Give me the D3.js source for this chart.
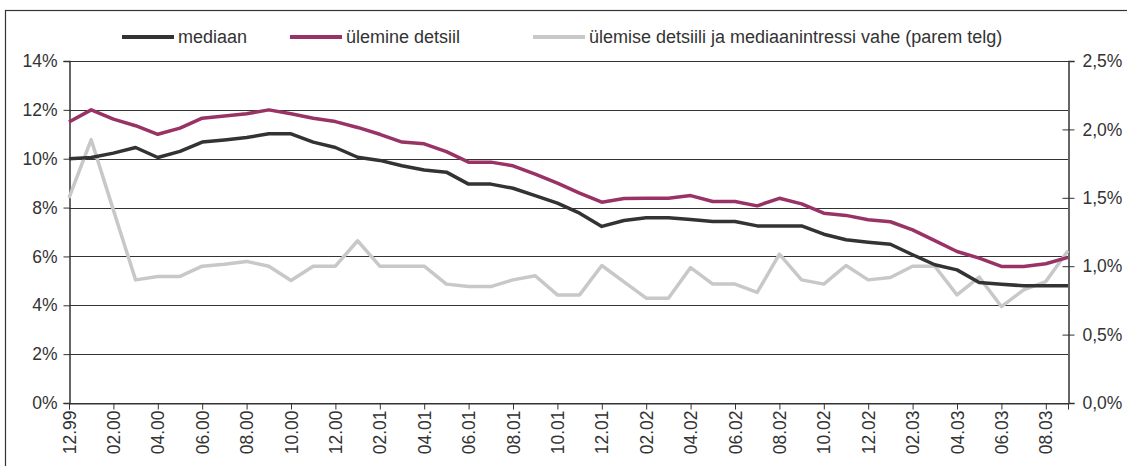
<!DOCTYPE html>
<html>
<head>
<meta charset="utf-8">
<script src="https://cdn.jsdelivr.net/npm/d3@7"></script>
<style>
  body { margin: 0; background: #fff; }
  svg { display: block; font-family: "Liberation Sans", Arial, sans-serif; }
</style>
</head>
<body>
<div id="chart"></div>
<script>
// kuud 12.99 ... 09.03
const months = [
  "12.99", "01.00", "02.00", "03.00", "04.00", "05.00", "06.00", "07.00", "08.00", "09.00", "10.00", "11.00", "12.00",
  "01.01", "02.01", "03.01", "04.01", "05.01", "06.01", "07.01", "08.01", "09.01", "10.01", "11.01", "12.01",
  "01.02", "02.02", "03.02", "04.02", "05.02", "06.02", "07.02", "08.02", "09.02", "10.02", "11.02", "12.02",
  "01.03", "02.03", "03.03", "04.03", "05.03", "06.03", "07.03", "08.03", "09.03"
];

// mediaan (vasak telg, %)
const mediaan = [
  10.0, 10.05, 10.23, 10.46, 10.05, 10.3, 10.68, 10.77, 10.87, 11.02, 11.02, 10.68, 10.46,
  10.06, 9.93, 9.71, 9.54, 9.45, 8.96, 8.96, 8.79, 8.49, 8.18, 7.77, 7.23,
  7.47, 7.58, 7.58, 7.51, 7.43, 7.43, 7.25, 7.25, 7.25, 6.91, 6.68, 6.58,
  6.5, 6.07, 5.66, 5.45, 4.93, 4.86, 4.8, 4.8, 4.8
];

// ülemine detsiil (vasak telg, %)
const ulemine = [
  11.5, 12.0, 11.62, 11.35, 11.0, 11.25, 11.66, 11.75, 11.84, 12.0, 11.84, 11.66, 11.52,
  11.28, 11.0, 10.68, 10.61, 10.29, 9.86, 9.86, 9.71, 9.37, 9.0, 8.59, 8.22,
  8.37, 8.38, 8.38, 8.49, 8.25, 8.25, 8.07, 8.38, 8.15, 7.77, 7.68, 7.5,
  7.42, 7.09, 6.65, 6.2, 5.93, 5.59, 5.59, 5.7, 5.96
];

// vahe (parem telg, %)
const vahe = [
  1.5, 1.925, 1.41, 0.9, 0.925, 0.925, 1.0, 1.015, 1.035, 1.0, 0.895, 1.0, 1.0,
  1.186, 1.0, 1.0, 1.0, 0.869, 0.851, 0.851, 0.9, 0.93, 0.79, 0.79, 1.005,
  0.885, 0.766, 0.766, 0.99, 0.869, 0.869, 0.808, 1.088, 0.9, 0.869, 1.005, 0.9,
  0.917, 1.0, 1.0, 0.79, 0.92, 0.705, 0.827, 0.888, 1.113
];

const leftTicks = [0, 2, 4, 6, 8, 10, 12, 14];
const rightTicks = [0, 0.5, 1.0, 1.5, 2.0, 2.5];
const legendNames = ["mediaan", "ülemine detsiil", "ülemise detsiili ja mediaanintressi vahe (parem telg)"];
const colors = ["#333333", "#993366", "#c8c8cb"];

const width = 1127, height = 466;
const plot = { left: 69, right: 1068, top: 61, bottom: 403 };

const svg = d3.select("#chart").append("svg")
  .attr("width", width)
  .attr("height", height);

// raam
svg.append("rect")
  .attr("x", 5.5).attr("y", 10.5)
  .attr("width", width + 10).attr("height", height + 10)
  .attr("fill", "none").attr("stroke", "#333").attr("stroke-width", 1.2);

const x = d3.scalePoint().domain(months).range([plot.left, plot.right]);
const yL = d3.scaleLinear().domain([0, 14]).range([plot.bottom, plot.top]);
const yR = d3.scaleLinear().domain([0, 2.5]).range([plot.bottom, plot.top]);

// ruudustik
svg.append("g")
  .selectAll("line")
  .data(leftTicks)
  .join("line")
  .attr("x1", plot.left).attr("x2", plot.right)
  .attr("y1", d => Math.round(yL(d)) + 0.5)
  .attr("y2", d => Math.round(yL(d)) + 0.5)
  .attr("stroke", "#333").attr("stroke-width", 1);

// vasak telg
const axL = svg.append("g")
  .attr("transform", `translate(${plot.left + 0.5},0)`)
  .call(d3.axisLeft(yL).tickValues(leftTicks).tickSize(6).tickPadding(6).tickFormat(d => d + "%"));

// parem telg
const axR = svg.append("g")
  .attr("transform", `translate(${plot.right + 0.5},0)`)
  .call(d3.axisRight(yR).tickValues(rightTicks).tickSize(6).tickPadding(8)
    .tickFormat(d => d3.format(".1f")(d).replace(".", ",") + "%"));
axR.selectAll(".tick line").attr("x1", -6);

// x telg
const axX = svg.append("g")
  .attr("transform", `translate(0,${plot.bottom + 0.5})`)
  .call(d3.axisBottom(x).tickValues(months.filter((d, i) => i % 2 === 0)).tickSize(6));
axX.selectAll("text")
  .attr("transform", "rotate(-90)")
  .attr("text-anchor", "end")
  .attr("dy", "0.35em")
  .attr("x", -7).attr("y", 0);

[axL, axR, axX].forEach(a => {
  a.select(".domain").attr("stroke", "#333").attr("stroke-width", 1.5);
  a.selectAll(".tick line").attr("stroke", "#333");
  a.selectAll("text").attr("fill", "#333").attr("font-size", "17.5px")
    .attr("font-family", "'Liberation Sans', Arial, sans-serif");
});
axX.select(".domain").attr("stroke-width", 1);

// jooned
const lineL = d3.line().x((d, i) => x(months[i])).y(d => yL(d));
const lineR = d3.line().x((d, i) => x(months[i])).y(d => yR(d));

const series = [
  { values: vahe, gen: lineR, color: colors[2] },
  { values: mediaan, gen: lineL, color: colors[0] },
  { values: ulemine, gen: lineL, color: colors[1] }
];

svg.append("g")
  .selectAll("path")
  .data(series)
  .join("path")
  .attr("d", d => d.gen(d.values))
  .attr("fill", "none")
  .attr("stroke", d => d.color)
  .attr("stroke-width", 3.5)
  .attr("stroke-linejoin", "round");

// legend
const legendX = [122, 290, 533];
const leg = svg.append("g")
  .selectAll("g")
  .data(legendNames)
  .join("g")
  .attr("transform", (d, i) => `translate(${legendX[i]},37)`);
leg.append("line")
  .attr("x1", 0).attr("x2", 52)
  .attr("stroke", (d, i) => colors[i])
  .attr("stroke-width", 4);
leg.append("text")
  .attr("x", 56).attr("y", 6)
  .attr("font-size", "18px")
  .attr("fill", "#333")
  .text(d => d);
</script>
</body>
</html>
